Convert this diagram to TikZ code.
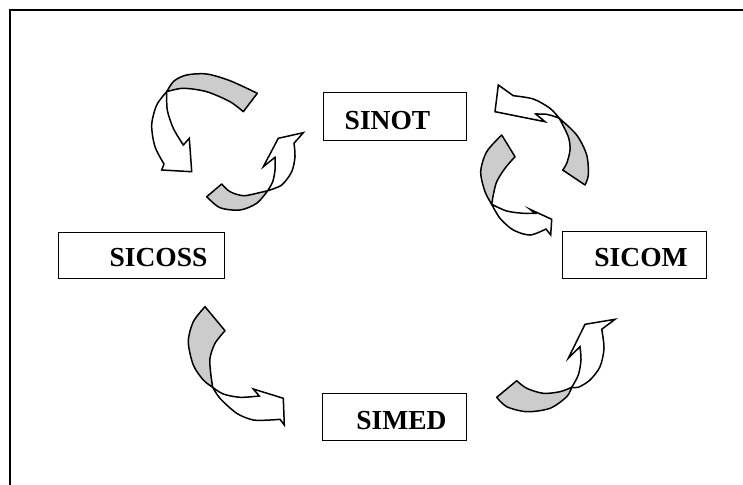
\documentclass[tikz,border=0pt]{standalone}
\usepackage{fontspec}
\setmainfont{Liberation Serif}
\definecolor{bandgray}{RGB}{204,204,204}
\begin{document}
\begin{tikzpicture}[x=1pt,y=-1pt,
  box/.style={draw=black,line width=1.6pt,inner sep=0pt},
  lbl/.style={font=\fontsize{27.5}{30}\selectfont\bfseries,anchor=base,inner sep=0pt},
  gband/.style={draw=black,fill=bandgray,line width=1.5pt,line join=round},
  warrow/.style={draw=black,fill=white,line width=1.5pt,line join=miter}]
\useasboundingbox (0,0) rectangle (743,484);
\clip (0,0) rectangle (743,484);
\draw[line width=1.5pt] (10,490) -- (10,10) -- (750,10);
% boxes
\node[box,minimum width=143pt,minimum height=48pt] (sinotbox) at (395,116.5) {};
\node[box,minimum width=166pt,minimum height=46pt] (sicossbox) at (141.5,255.5) {};
\node[box,minimum width=144pt,minimum height=47pt] (sicombox) at (634.5,255) {};
\node[box,minimum width=144pt,minimum height=47pt] (simedbox) at (394.5,417) {};
\node[lbl] (sinot) at (387.5,129) {SINOT};
\node[lbl] (sicoss) at (158.5,266) {SICOSS};
\node[lbl] (sicom) at (641,266) {SICOM};
\node[lbl] (simed) at (401.5,429) {SIMED};
% ---- arrow A (top left, pointing down to SICOSS)
\draw[gband] (166.7,91.7) -- plot[smooth] coordinates {(166.7,91.7)(174,81)(186.7,75)(206.7,74)(230,80.7)(257.3,93.3)} -- (243.3,111.7) -- plot[smooth] coordinates {(243.3,111.7)(230,101.7)(206.7,91.7)(183.3,88.3)(166.7,91.7)} -- cycle;
\draw[warrow] (166.7,91.7) -- plot[smooth] coordinates {(166.7,91.7)(156.7,105)(151.7,125)(155,146.7)(164,164)} -- (161.7,170) -- (191.7,171.7) -- (189.3,138.3) -- (183.3,145) -- plot[smooth] coordinates {(183.3,145)(173.3,128.3)(167.3,110)(166.7,91.7)} -- cycle;
% ---- arrow B (pointing up to SINOT)
\draw[gband] (206.7,196.7) -- (221.7,184) -- plot[smooth] coordinates {(221.7,184)(230,191.7)(243.3,195.7)(256.7,193.3)(267.7,190.7)} -- plot[smooth] coordinates {(267.7,190.7)(256.7,203.3)(240,210)(220,207.7)(206.7,196.7)} -- cycle;
\draw[warrow] (267.7,190.7) -- plot[smooth] coordinates {(267.7,190.7)(272.7,181.7)(275,170)(275,157.3)} -- (263.3,166.7) -- (278.3,138.3) -- (303.3,132.7) -- (294,143.3) -- plot[smooth] coordinates {(294,143.3)(295,156.7)(291.7,171.7)(281.7,185)(267.7,190.7)} -- cycle;
% ---- arrow C (top right, pointing left to SINOT)
\draw[gband] (559.3,118.3) -- plot[smooth] coordinates {(559.3,118.3)(576.7,135)(586.7,155)(588.3,175)(585,185)} -- (562.7,170) -- plot[smooth] coordinates {(562.7,170)(566.7,163.3)(570,150)(568.3,136.7)(559.3,118.3)} -- cycle;
\draw[warrow] (559.3,118.3) -- plot[smooth] coordinates {(559.3,118.3)(550,108.3)(533.3,99)(513.3,95.7)} -- (498.3,85) -- (495,111.7) -- (545,121.7) -- (535.7,114) -- plot[smooth] coordinates {(535.7,114)(546.7,114.3)(555,116.7)(559.3,118.3)} -- cycle;
% ---- arrow D (pointing right to SICOM)
\draw[gband] (501.7,135) -- plot[smooth] coordinates {(501.7,135)(486.7,151.7)(480.7,171.7)(485,191.7)(491.7,204.3)} -- plot[smooth] coordinates {(491.7,204.3)(493.3,195)(496.7,181.7)(505,168.3)(515,156.7)} -- cycle;
\draw[warrow] (491.7,204.3) -- plot[smooth] coordinates {(491.7,204.3)(506.7,211)(523.3,213.3)(535,213.3)} -- (530,209.3) -- (551.7,219.3) -- (550.7,235) -- (546,229) -- plot[smooth] coordinates {(546,229)(530,235)(513.3,230)(500,218.3)(491.7,204.3)} -- cycle;
% ---- arrow E (bottom left, pointing right to SIMED)
\draw[gband] (205,306.7) -- plot[smooth] coordinates {(205,306.7)(193.3,321.7)(188.3,341.7)(193.3,365)(203.3,380)(212.7,387.3)} -- plot[smooth] coordinates {(212.7,387.3)(210.7,373.3)(210,358.3)(215,343.3)(225,330.7)} -- cycle;
\draw[warrow] (212.7,387.3) -- plot[smooth] coordinates {(212.7,387.3)(223.3,394)(240,397.3)(259.3,396)} -- (253.3,389) -- (283.3,398.3) -- (284.3,425) -- (280,419.3) -- plot[smooth] coordinates {(280,419.3)(270,420)(253.3,420)(236.7,413.3)(220,398.3)(212.7,387.3)} -- cycle;
% ---- arrow F (bottom right, pointing up to SICOM)
\draw[gband] (496.7,397.3) -- (516.7,380.7) -- plot[smooth] coordinates {(516.7,380.7)(526.7,388.3)(543.3,393.3)(560,391.7)(571.7,387.3)} -- plot[smooth] coordinates {(571.7,387.3)(566.7,396.7)(550,408.3)(526.7,411.7)(506.7,406.7)(496.7,397.3)} -- cycle;
\draw[warrow] (571.7,387.3) -- plot[smooth] coordinates {(571.7,387.3)(578.3,375)(581,360)(580,346.7)} -- (568.3,358.3) -- (585,324.3) -- (615,319.3) -- (601.7,329.3) -- plot[smooth] coordinates {(601.7,329.3)(604,348.3)(600,366.7)(590,380)(578.3,387.3)(571.7,387.3)} -- cycle;
\end{tikzpicture}
\end{document}
